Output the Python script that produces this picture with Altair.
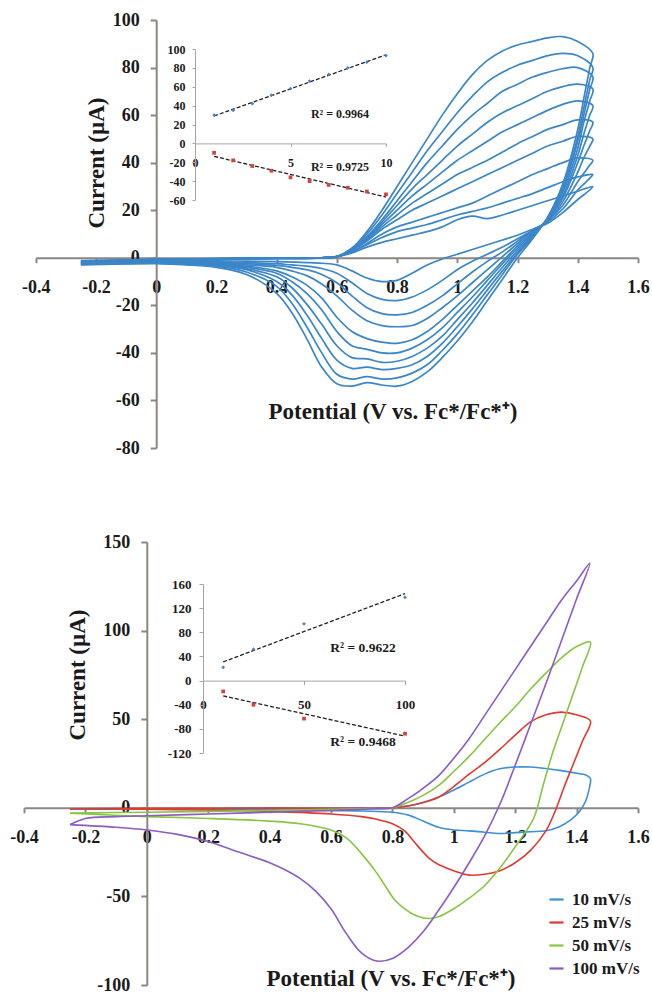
import altair as alt
import pandas as pd

FONT = "Liberation Serif"
INK = "#1a1a1a"
AXIS_GREY = "#8c8682"
INSET_GREY = "#aaa49f"
SCAN_BLUE = "#3a86c8"
H = 994

# ---------------- upper panel: ten successive CV scans ----------------
SCAN_FWD_V = [-0.25, 0.0, 0.2, 0.4, 0.55, 0.6, 0.65, 0.7, 0.75, 0.8, 0.85, 0.9,
              0.95, 1.0, 1.05, 1.1, 1.15, 1.2, 1.25, 1.3, 1.35, 1.4, 1.45]
SCAN_REV_V = [1.44, 1.42, 1.40, 1.35, 1.30, 1.25, 1.20, 1.15, 1.10, 1.05, 1.00, 0.95,
              0.90, 0.85, 0.80, 0.75, 0.70, 0.65, 0.60, 0.55, 0.50, 0.45, 0.40, 0.30,
              0.20, 0.10, 0.00, -0.25]

FWD_01 = [-1.2, -0.7, -0.3, -0.2, 0, 0.5, 2, 4.5, 6.5, 8, 9.5, 11, 13, 16, 17.5, 16.5, 18, 20, 22, 24, 26, 28, 30]
FWD_02 = [-1.4, -0.7, -0.3, -0.2, 0, 0.5, 2.5, 5.5, 8.5, 11, 12.5, 14, 16, 18, 19.5, 21, 23, 25, 27, 29.5, 32, 34, 35]
FWD_03 = [-1.6, -0.8, -0.4, -0.2, 0, 0.5, 2.5, 6, 10, 13, 15, 17, 19, 21, 23, 26, 29, 32, 35, 37.5, 40, 42, 41]
FWD_04 = [-1.8, -0.8, -0.4, -0.2, 0, 0.5, 3, 7, 12, 16, 20, 23, 26, 29, 32, 35, 38, 41, 44, 47, 49, 51, 50]
FWD_05 = [-2.0, -0.9, -0.4, -0.2, 0, 0.5, 3, 7.5, 13, 18, 23, 27, 31, 35, 38, 41, 44.5, 48, 51, 54, 56, 58, 57]
FWD_06 = [-2.2, -0.9, -0.5, -0.2, 0, 0.5, 3, 8, 14, 20, 26, 31, 36, 41, 45, 49, 53, 56, 59, 62, 64.5, 66, 64]
FWD_07 = [-2.4, -1.0, -0.5, -0.3, 0, 0.5, 3.5, 8.5, 15, 22, 29, 35, 41, 47, 52, 57, 61, 64, 67, 70, 72, 73, 71]
FWD_08 = [-2.6, -1.0, -0.5, -0.3, 0, 0.5, 3.5, 9, 16, 24, 32, 40, 47, 54, 60, 65, 70, 73, 76, 78, 79.5, 80, 76]
FWD_09 = [-2.8, -1.1, -0.6, -0.3, 0, 0.5, 4, 10, 18, 27, 36, 45, 53, 61, 68, 74, 78, 81, 83, 85, 86, 85, 80]
FWD_10 = [-3.0, -1.2, -0.6, -0.3, 0, 0.5, 4, 11, 20, 30, 40, 50, 60, 69, 77, 83, 87, 89.5, 91, 92.5, 93, 91, 86]

REV_01 = [28.5, 26.5, 24.5, 19, 14.5, 12, 9.5, 7.5, 5.5, 3.5, 1.5, -0.5, -3, -6.5, -9.5, -10, -8.5, -5.5, -3, -2.3, -2, -1.8, -1.6, -1.4, -1.3, -1.2, -1.1, -1.2]
REV_02 = [33.5, 31, 28.5, 20.5, 15, 11.5, 8, 4.5, 1.5, -1.5, -5, -9.5, -13.5, -16.5, -18, -17.5, -15, -10.5, -6.5, -4.5, -3.5, -3, -2.5, -2, -1.7, -1.4, -1.3, -1.4]
REV_03 = [39, 35.5, 32, 22, 15.5, 11.5, 7, 2.5, -1.5, -6, -11, -16, -20, -23, -24, -23.5, -21, -16, -10.5, -7, -5, -4, -3.2, -2.5, -2, -1.6, -1.5, -1.6]
REV_04 = [47, 42, 36, 23.5, 15.5, 11, 6, 0.5, -5, -10.5, -16, -21, -25.5, -28.5, -29, -28.5, -26.5, -22, -16, -11, -7.5, -5.5, -4, -3, -2.2, -1.8, -1.6, -1.8]
REV_05 = [53.5, 47, 40, 25, 16, 10.5, 5, -1.5, -8, -14, -20, -26, -31, -34.5, -36, -35.5, -34, -31, -25, -17, -11.5, -8, -5.5, -3.5, -2.5, -2, -1.8, -2]
REV_06 = [60, 52, 43, 26, 16, 10, 4, -2.5, -9.5, -16.5, -23, -29.5, -34.5, -38, -40, -40, -38.5, -37, -31, -22, -15, -10, -6.5, -4, -2.7, -2.1, -1.9, -2.2]
REV_07 = [66, 57, 46, 27.5, 16.5, 9.5, 3, -4, -11.5, -19, -26, -33, -38, -41.5, -43.5, -44, -42.5, -42, -37, -28, -19.5, -12.5, -8, -4.5, -3, -2.3, -2, -2.4]
REV_08 = [71, 60, 49, 28.5, 16.5, 9, 2, -5.5, -13.5, -21.5, -29, -36, -41.5, -45, -46.5, -47, -46, -46.5, -43, -34, -24, -15.5, -10, -5, -3.2, -2.5, -2.1, -2.6]
REV_09 = [75, 63, 51, 29.5, 17, 8.5, 1.5, -7, -15.5, -24, -32, -39, -45, -48.5, -50.5, -51, -50, -51, -49, -40, -29, -19, -12, -6, -3.5, -2.7, -2.3, -2.8]
REV_10 = [80, 67, 54, 31, 17, 8, 0, -9, -18, -27, -35, -42, -48, -52, -54, -53.5, -52.5, -54, -53, -46, -34, -23, -15, -7, -4, -3, -2.5, -3]

SCANS_FWD = [FWD_01, FWD_02, FWD_03, FWD_04, FWD_05, FWD_06, FWD_07, FWD_08, FWD_09, FWD_10]
SCANS_REV = [REV_01, REV_02, REV_03, REV_04, REV_05, REV_06, REV_07, REV_08, REV_09, REV_10]

# peak currents per scan (upper inset)
SCAN_NO = [1, 2, 3, 4, 5, 6, 7, 8, 9, 10]
SCAN_PEAK_A = [30, 35, 42, 51, 58, 66, 73, 80, 86, 93]
SCAN_PEAK_C = [-10, -18, -24, -29, -36, -40, -44, -47, -51, -54]
SCAN_R2 = ["R\u00b2 = 0.9964", "R\u00b2 = 0.9725"]

# ---------------- lower panel: scan-rate series ----------------
RATES = ["10 mV/s", "25 mV/s", "50 mV/s", "100 mV/s"]
RATE_COLORS = ["#3c8fd6", "#e03a2e", "#88c540", "#8a5cc4"]

V_10 = [-0.25, 0.0, 0.4, 0.7, 0.8, 0.85, 0.9, 0.95, 1.0, 1.05, 1.1, 1.15, 1.2, 1.25, 1.3, 1.35, 1.4, 1.43, 1.445,
        1.44, 1.43, 1.41, 1.38, 1.34, 1.3, 1.25, 1.2, 1.15, 1.1, 1.05, 1.0, 0.95, 0.9, 0.85, 0.8, 0.7, 0.5, 0.2, 0.0, -0.25]
I_10 = [-0.8, -0.5, -0.3, -0.1, 0, 1, 3, 6, 10, 14.5, 19, 22, 23, 23, 22.2, 21, 19.5, 18.5, 16.5,
        10, 4, -2, -7, -11, -13, -13.5, -14, -14.5, -13.8, -13, -12.5, -11, -7.5, -4, -2.5, -1.8, -1.3, -1, -0.8, -0.8]

V_25 = [-0.25, 0.0, 0.4, 0.8, 0.85, 0.9, 0.95, 1.0, 1.05, 1.1, 1.15, 1.2, 1.25, 1.3, 1.35, 1.4, 1.445,
        1.42, 1.39, 1.36, 1.33, 1.3, 1.25, 1.2, 1.15, 1.1, 1.05, 1.0, 0.95, 0.92, 0.9, 0.87, 0.84, 0.8, 0.75, 0.7,
        0.6, 0.4, 0.2, 0.0, -0.25]
I_25 = [-0.5, -0.3, -0.2, 0, 1, 3, 6, 12, 19, 25.5, 33, 41, 48.5, 52.5, 54, 52.5, 49,
        38, 25, 12, -2, -13, -24, -31, -35.5, -37.5, -38, -35.5, -32, -28.5, -25, -19, -13, -9, -6.5, -5,
        -3.5, -2, -1.2, -0.8, -0.5]

V_50 = [-0.25, 0.0, 0.4, 0.7, 0.8, 0.85, 0.9, 0.95, 1.0, 1.05, 1.1, 1.15, 1.2, 1.25, 1.3, 1.35, 1.4, 1.445,
        1.42, 1.39, 1.35, 1.32, 1.29, 1.26, 1.2, 1.15, 1.1, 1.05, 1.0, 0.95, 0.92, 0.88, 0.84, 0.81, 0.78, 0.75,
        0.7, 0.65, 0.6, 0.5, 0.4, 0.2, 0.0, -0.25]
I_50 = [-3, -2.5, -1.5, -0.5, 0, 3, 7, 12.5, 20.5, 29, 38.5, 48, 57, 67, 76, 84.5, 91, 93.5,
        80, 65, 45, 30, 12, -6, -22, -34, -44, -51, -57, -61.5, -62.5, -61, -57, -52.5, -45, -37,
        -26, -17, -12.5, -9, -7.5, -6, -5, -3]

V_100 = [-0.25, -0.2, -0.1, 0.0, 0.2, 0.4, 0.6, 0.75, 0.8, 0.85, 0.9, 0.95, 1.0, 1.05, 1.1, 1.15, 1.2, 1.25, 1.3,
         1.35, 1.4, 1.443,
         1.4, 1.35, 1.3, 1.25, 1.2, 1.15, 1.1, 1.05, 1.0, 0.95, 0.9, 0.85, 0.8, 0.75, 0.7, 0.65, 0.6, 0.55, 0.5,
         0.45, 0.4, 0.3, 0.2, 0.1, 0.0, -0.1, -0.25]
I_100 = [-9.5, -6, -5, -4.5, -3.5, -2.5, -1.5, -0.5, 0, 5, 11, 18, 28, 39, 52, 65, 78, 91, 104, 117, 128, 138,
         118, 94, 70, 47, 24, 2, -16, -31, -45, -58, -70, -79, -85, -86.5, -82, -71, -57, -47, -40,
         -35, -31, -25, -19, -15, -12.5, -11, -9.5]

RATE_V = [V_10, V_25, V_50, V_100]
RATE_I = [I_10, I_25, I_50, I_100]

# peak currents per scan rate (lower inset)
RATE_NUM = [10, 25, 50, 100]
RATE_PEAK_A = [22, 52, 94, 138]
RATE_PEAK_C = [-18, -40, -63, -88]
RATE_R2 = ["R\u00b2 = 0.9622", "R\u00b2 = 0.9468"]

# tick values
X_TICKS = [-0.4, -0.2, 0, 0.2, 0.4, 0.6, 0.8, 1, 1.2, 1.4, 1.6]
TOP_Y_TICKS = [-80, -60, -40, -20, 0, 20, 40, 60, 80, 100]
BOT_Y_TICKS = [-100, -50, 0, 50, 100, 150]
IN1_X_TICKS = [0, 5, 10]
IN1_Y_TICKS = [-60, -40, -20, 0, 20, 40, 60, 80, 100]
IN2_X_TICKS = [0, 50, 100]
IN2_Y_TICKS = [-120, -80, -40, 0, 40, 80, 120, 160]

X_TITLE = "Potential (V vs. Fc*/Fc*\u207a)"
Y_TITLE = "Current (\u00b5A)"

# ---------------- tables ----------------
rows = []
for k, (fwd, rev) in enumerate(zip(SCANS_FWD, SCANS_REV)):
    for i, (v, c) in enumerate(zip(SCAN_FWD_V + SCAN_REV_V, fwd + rev)):
        rows.append({"scan": k, "i": i, "V": v, "I": c})
scan_df = pd.DataFrame(rows)

rows = []
for name, vs, cs in zip(RATES, RATE_V, RATE_I):
    for i, (v, c) in enumerate(zip(vs, cs)):
        rows.append({"rate": name, "i": i, "V": v, "I": c})
rate_df = pd.DataFrame(rows)

inset1_df = pd.DataFrame({
    "n": SCAN_NO + SCAN_NO,
    "I": SCAN_PEAK_A + SCAN_PEAK_C,
    "kind": ["anodic"] * len(SCAN_NO) + ["cathodic"] * len(SCAN_NO),
})
inset2_df = pd.DataFrame({
    "n": RATE_NUM + RATE_NUM,
    "I": RATE_PEAK_A + RATE_PEAK_C,
    "kind": ["anodic"] * len(RATE_NUM) + ["cathodic"] * len(RATE_NUM),
})

LABEL_EXPR = "replace(format(datum.value, '~g'), '\u2212', '-')"


def make_axis(orient, axis_pos, values, tick, pad, color, width, size):
    # axis_pos: pixel position of the crossing axis line inside the frame
    offset = axis_pos - H if orient == "bottom" else -axis_pos
    return alt.Axis(
        orient=orient, offset=offset, values=values, title=None, grid=False,
        domainColor=color, domainWidth=width, tickColor=color, tickWidth=width,
        tickSize=tick, labelPadding=pad, labelFont=FONT, labelFontWeight="bold",
        labelFontSize=size, labelColor=INK, labelFlush=False, labelOverlap=False,
        labelExpr=LABEL_EXPR,
    )


# ---------------- upper CV ----------------
top_x = alt.Scale(domain=[-0.4, 1.6], range=[35.7, 638], nice=False, zero=False)
top_y = alt.Scale(domain=[-80, 100], range=[448, 20], nice=False, zero=False)
top_cv = alt.Chart(scan_df).mark_line(
    interpolate="catmull-rom", strokeWidth=1.7, color=SCAN_BLUE
).encode(
    x=alt.X("V:Q", scale=top_x, axis=make_axis("bottom", 257.7, X_TICKS, 5, 16, AXIS_GREY, 2, 18)),
    y=alt.Y("I:Q", scale=top_y, axis=make_axis("left", 156.2, TOP_Y_TICKS, 6, 11, AXIS_GREY, 2, 18)),
    detail="scan:N",
    order="i:Q",
)

# ---------------- lower CV ----------------
bot_x = alt.Scale(domain=[-0.4, 1.6], range=[24, 638], nice=False, zero=False)
bot_y = alt.Scale(domain=[-100, 150], range=[985, 542], nice=False, zero=False)
bot_cv = alt.Chart(rate_df).mark_line(
    interpolate="catmull-rom", strokeWidth=1.6
).encode(
    x=alt.X("V:Q", scale=bot_x, axis=make_axis("bottom", 807.8, X_TICKS, 5, 16, AXIS_GREY, 2, 18)),
    y=alt.Y("I:Q", scale=bot_y, axis=make_axis("left", 146.8, BOT_Y_TICKS, 6, 11, AXIS_GREY, 2, 18)),
    color=alt.Color(
        "rate:N",
        scale=alt.Scale(domain=RATES, range=RATE_COLORS),
        legend=alt.Legend(
            title=None, orient="none", legendX=548, legendY=891, symbolType="stroke",
            symbolSize=200, symbolStrokeWidth=2.2, labelFont=FONT, labelFontWeight="bold",
            labelFontSize=17, labelColor=INK, rowPadding=5, padding=0, labelOffset=7,
        ),
    ),
    detail="rate:N",
    order="i:Q",
)


def inset(df, xs, ys, x_ticks, y_ticks, x_pos, y_pos, size, tick, ypad, xpad):
    ax_x = make_axis("bottom", y_pos, x_ticks, tick, xpad, INSET_GREY, 1, size)
    ax_y = make_axis("left", x_pos, y_ticks, tick, ypad, INSET_GREY, 1, size)
    pts = alt.Chart(df).mark_point(filled=True, size=14, opacity=1).encode(
        x=alt.X("n:Q", scale=xs, axis=ax_x),
        y=alt.Y("I:Q", scale=ys, axis=ax_y),
        color=alt.Color("kind:N", scale=alt.Scale(domain=["anodic", "cathodic"],
                                                  range=["#4f81bd", "#d0443f"]), legend=None),
        shape=alt.Shape("kind:N", scale=alt.Scale(domain=["anodic", "cathodic"],
                                                  range=["diamond", "square"]), legend=None),
    )
    fit = alt.Chart(df).transform_regression(
        "n", "I", groupby=["kind"]
    ).mark_line(color="#222222", strokeDash=[4, 2], strokeWidth=1.3).encode(
        x=alt.X("n:Q", scale=xs, axis=ax_x),
        y=alt.Y("I:Q", scale=ys, axis=ax_y),
        detail="kind:N",
    )
    return alt.layer(fit, pts)


inset1 = inset(
    inset1_df,
    alt.Scale(domain=[0, 10], range=[195, 386], nice=False, zero=False),
    alt.Scale(domain=[-60, 100], range=[200, 49], nice=False, zero=False),
    IN1_X_TICKS, IN1_Y_TICKS, 195, 143.4, 12, 3, 7, 11,
)
inset2 = inset(
    inset2_df,
    alt.Scale(domain=[0, 100], range=[203, 405], nice=False, zero=False),
    alt.Scale(domain=[-120, 160], range=[753, 584], nice=False, zero=False),
    IN2_X_TICKS, IN2_Y_TICKS, 203, 680.6, 13, 4, 8, 14,
)


def label(text, x, y, size, angle=0):
    return alt.Chart(pd.DataFrame({"t": [text]})).mark_text(
        font=FONT, fontWeight="bold", fontSize=size, color=INK, angle=angle,
        align="center", baseline="middle",
    ).encode(text="t:N", x=alt.value(x), y=alt.value(y))


texts = [
    label(Y_TITLE, 97, 163, 23, 270),
    label(Y_TITLE, 78, 675, 23, 270),
    label(X_TITLE, 393, 412, 23),
    label(X_TITLE, 391, 979, 23),
    label(SCAN_R2[0], 340, 114, 12),
    label(SCAN_R2[1], 340, 167, 12),
    label(RATE_R2[0], 363, 648, 13.5),
    label(RATE_R2[1], 363, 742, 13.5),
]

chart = alt.layer(top_cv, bot_cv, inset1, inset2, *texts).resolve_scale(
    x="independent", y="independent", color="independent", shape="independent"
).properties(
    width=652, height=H, padding=0, autosize=alt.AutoSizeParams(type="none")
).configure_view(stroke=None)

chart.save("out.html", embed_options={"renderer": "svg", "actions": False})
